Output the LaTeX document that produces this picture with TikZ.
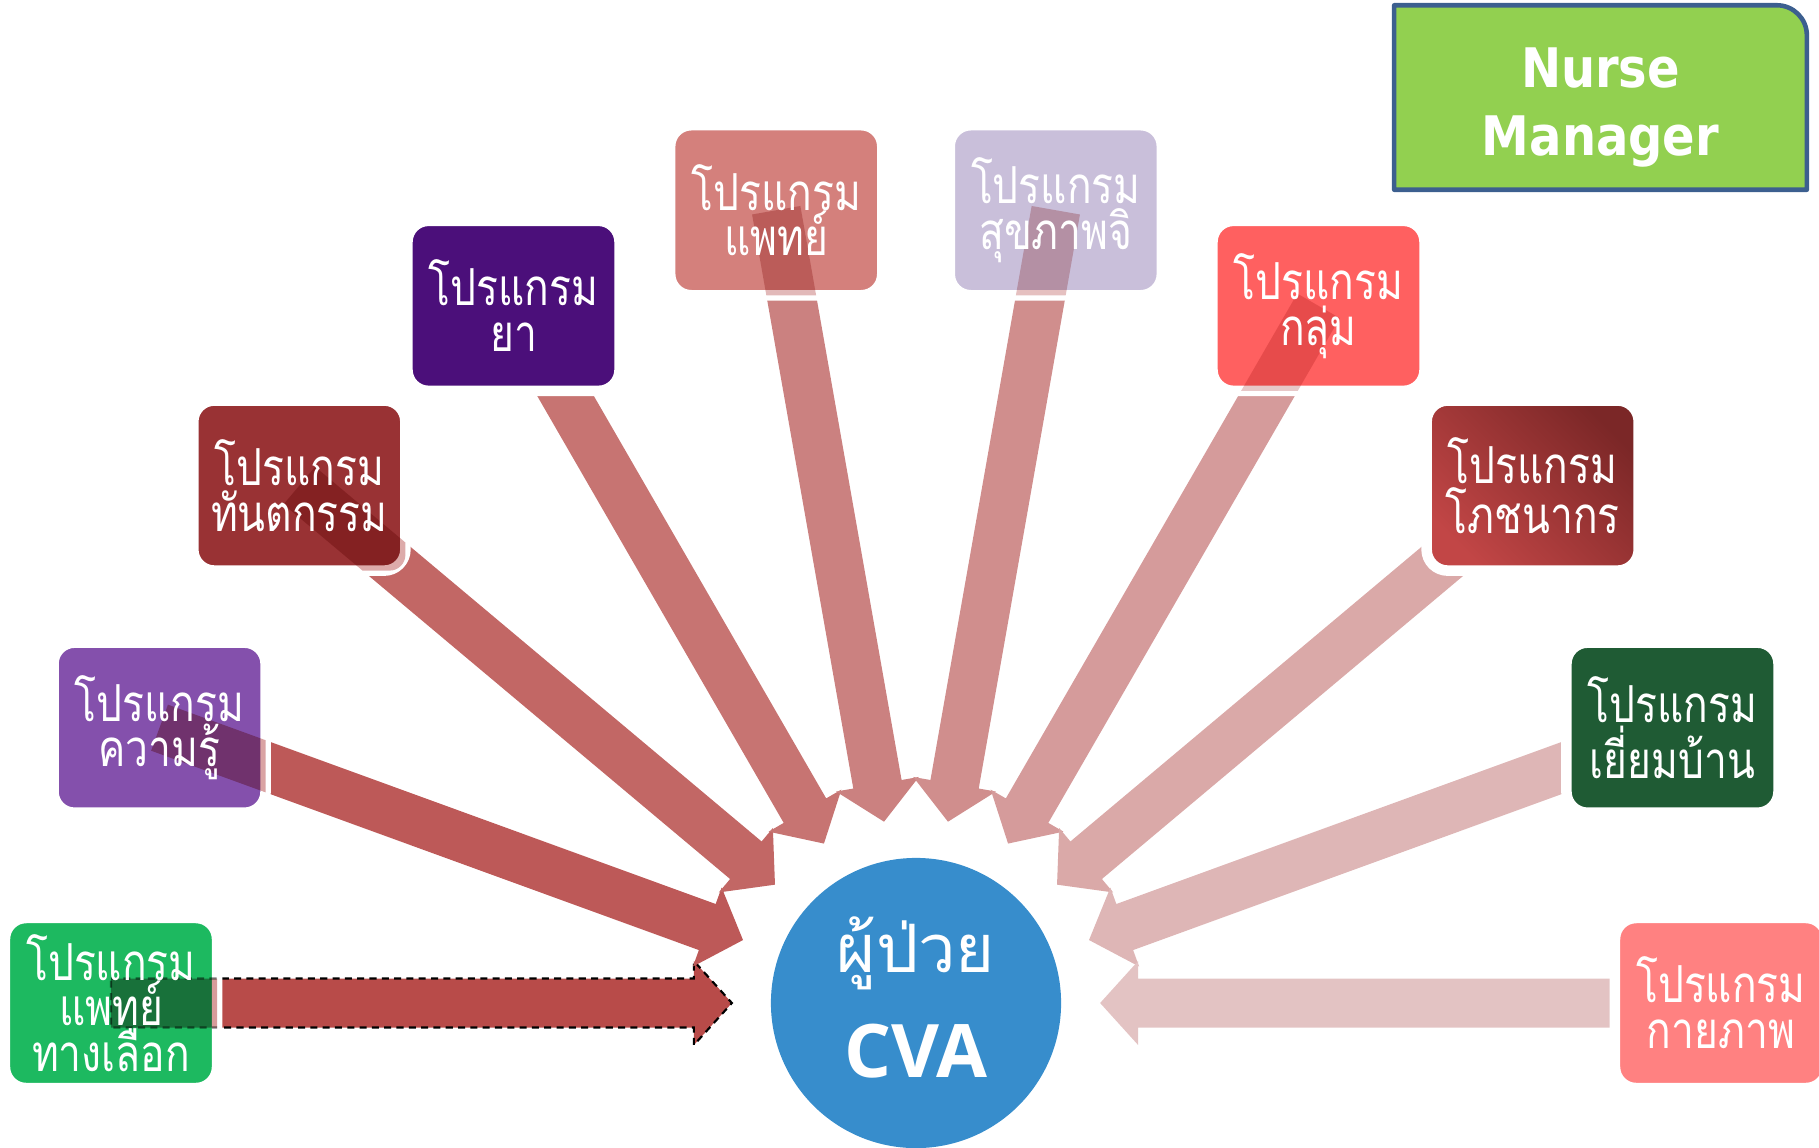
\documentclass[tikz,border=0pt]{standalone}
\usepackage{fontspec}
\usepackage{xcolor}
\usetikzlibrary{calc,backgrounds}
\newfontfamily\thaifont[Script=Thai]{Loma}
\newfontfamily\thainarrow[Script=Thai, FakeStretch=0.8]{Loma}
\newfontfamily\headfont{DejaVu Sans}[FakeStretch=0.88]
\newfontfamily\cvafont{Open Sans}
\definecolor{cvaBlue}{HTML}{378DCC}
\definecolor{nurseGreen}{HTML}{92D050}
\definecolor{nurseEdge}{HTML}{3C5F8F}
\definecolor{spokeDark}{HTML}{B84B49}
\definecolor{spokeLight}{HTML}{E3C3C3}
\definecolor{progAlt}{HTML}{1DB960}
\definecolor{progKnow}{HTML}{8450AC}
\definecolor{progDent}{HTML}{993234}
\definecolor{progDrug}{HTML}{4B0F7A}
\definecolor{progDoc}{HTML}{D4807C}
\definecolor{progMind}{HTML}{C9BFDA}
\definecolor{progGroup}{HTML}{FF6060}
\definecolor{progNutrDark}{HTML}{7B2727}
\definecolor{progNutrLight}{HTML}{C24646}
\definecolor{progHome}{HTML}{1F5B34}
\definecolor{progPhys}{HTML}{FF8181}
\tikzset{
  cva diagram/.style={x=0.01cm, y=0.01cm, line join=round},
  cva disc/.style={circle, fill=cvaBlue, minimum size=2.9cm, inner sep=0pt},
  cva thai/.style={anchor=base, text=white, font=\thaifont\fontsize{19}{19}\selectfont},
  cva latin/.style={anchor=base, text=white, font=\cvafont\bfseries\fontsize{21}{21}\selectfont},
  prog box/.style={draw=white, line width=3pt, rounded corners=6pt,
    minimum width=2.12cm, minimum height=1.70cm, inner sep=0pt},
  prog text/.style={text=white, align=center, font=\thainarrow\fontsize{14.5}{13}\selectfont},
  nurse box/.style={minimum width=4.11cm, minimum height=1.83cm, inner sep=0pt},
  nurse edge/.style={draw=nurseEdge, fill=nurseGreen, line width=1.3pt},
  nurse text/.style={text=white, align=center, font=\headfont\bfseries\fontsize{15.5}{19.6}\selectfont},
  spoke tint/.style={fill=#1, fill opacity=.55},
  spoke edge/.style={draw=black, dash pattern=on 2pt off 1.5pt, line width=.6pt}
}
% block arrow from a programme box to the patient disc
\newcommand{\spoke}[2]{%
  \coordinate (hb) at ($(cva.center)!2.22cm!(#1.center)$);
  \coordinate (tp) at ($(cva.center)!1.84cm!(#1.center)$);
  \path[#2] ($(#1.center)!2.45mm!90:(cva.center)$)
    -- ($(hb)!2.45mm!90:(cva.center)$) -- ($(hb)!4.2mm!90:(cva.center)$)
    -- (tp)
    -- ($(hb)!4.2mm!-90:(cva.center)$) -- ($(hb)!2.45mm!-90:(cva.center)$)
    -- ($(#1.center)!2.45mm!-90:(cva.center)$) -- cycle;}

\begin{document}
\begin{tikzpicture}[cva diagram]
\useasboundingbox (0,0) rectangle (1819,1147);
\node[cva disc] (cva) at (916,144) {};

% programme boxes on a half ring
\node[prog box, fill=progAlt] (alt) at ($(cva.center)+(180:805)$) {};
\node[prog box, fill=progKnow] (know) at ($(cva.center)+(160:805)$) {};
\node[prog box, fill=progDent] (dent) at ($(cva.center)+(140:805)$) {};
\node[prog box, fill=progDrug] (drug) at ($(cva.center)+(120:805)$) {};
\node[prog box, fill=progDoc] (doc) at ($(cva.center)+(100:805)$) {};
\node[prog box, fill=progMind] (mind) at ($(cva.center)+(80:805)$) {};
\node[prog box, fill=progGroup] (group) at ($(cva.center)+(60:805)$) {};
\node[prog box, bottom color=progNutrLight, top color=progNutrDark, shading angle=-45] (nutr) at ($(cva.center)+(40:805)$) {};
\node[prog box, fill=progHome] (home) at ($(cva.center)+(20:805)$) {};
\node[prog box, fill=progPhys] (phys) at ($(cva.center)+(0:805)$) {};

\begin{scope}[on background layer]
  \spoke{alt}{fill=spokeDark, spoke edge}
  \foreach \prog [count=\k] in {know,dent,drug,doc,mind,group,nutr,home,phys}{
    \pgfmathtruncatemacro\mixpct{100-\k*100/9}
    \colorlet{spokeNow}{spokeDark!\mixpct!spokeLight}
    \spoke{\prog}{fill=spokeNow}
  }
\end{scope}

% darker overlap where an arrow runs into its box
\begin{scope}[blend mode=multiply]
  \foreach \prog/\k in {alt/0,know/1,dent/2,doc/4,mind/5,group/6}{
    \pgfmathtruncatemacro\mixpct{100-\k*100/9}
    \colorlet{spokeNow}{spokeDark!\mixpct!spokeLight}
    \begin{scope}
      \clip[rounded corners=4.5pt] ([shift={(1.5pt,1.5pt)}]\prog.south west) rectangle ([shift={(-1.5pt,-1.5pt)}]\prog.north east);
      \spoke{\prog}{spoke tint=spokeNow}
    \end{scope}
  }
  \begin{scope}
    \clip[rounded corners=4.5pt] ([shift={(1.5pt,1.5pt)}]alt.south west) rectangle ([shift={(-1.5pt,-1.5pt)}]alt.north east);
    \spoke{alt}{spoke edge, draw opacity=.5}
  \end{scope}
\end{scope}

\node[prog text] (altText) at (alt) {โปรแกรม\\แพทย์\\ทางเลือก};
\node[prog text] (knowText) at (know) {โปรแกรม\\ความรู้};
\node[prog text] (dentText) at (dent) {โปรแกรม\\ทันตกรรม};
\node[prog text] (drugText) at (drug) {โปรแกรม\\ยา};
\node[prog text] (docText) at (doc) {โปรแกรม\\แพทย์};
\node[prog text] (mindText) at (mind) {โปรแกรม\\สุขภาพจิ};
\node[prog text] (groupText) at (group) {โปรแกรม\\กลุ่ม};
\node[prog text] (nutrText) at (nutr) {โปรแกรม\\โภชนากร};
\node[prog text] (homeText) at (home) {โปรแกรม\\เยี่ยมบ้าน};
\node[prog text] (physText) at (phys) {โปรแกรม\\กายภาพ};

\node[cva thai] (cvaThai) at ($(cva.center)+(0,31)$) {ผู้ป่วย};
\node[cva latin] (cvaLatin) at ($(cva.center)+(0,-74)$) {CVA};

% manager box, one round corner
\node[nurse box] (nurse) at (1600.5,1049.5) {};
\draw[nurse edge] (nurse.south west) -- (nurse.north west)
  -- ([xshift=-0.3cm]nurse.north east) arc[start angle=90, end angle=0, radius=0.3cm]
  -- (nurse.south east) -- cycle;
\node[nurse text] (nurseText) at ([yshift=-0.1cm]nurse.center) {Nurse\\Manager};
\end{tikzpicture}
\end{document}
